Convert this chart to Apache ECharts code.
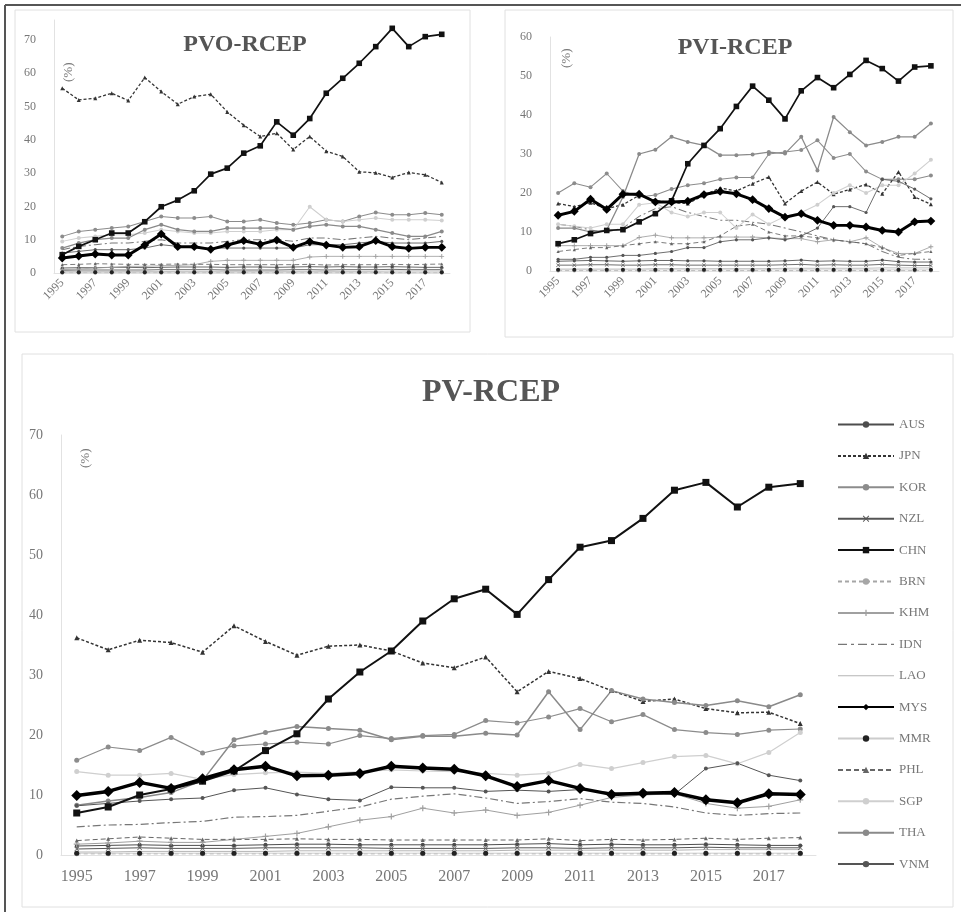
<!DOCTYPE html>
<html>
<head>
<meta charset="utf-8">
<script src="https://cdn.jsdelivr.net/npm/echarts@6/dist/echarts.min.js"></script>
<style>
  html, body { margin: 0; padding: 0; background: #fff; }
  #main { width: 961px; height: 912px; }
</style>
</head>
<body>
<div id="main"></div>
<script>
var years = ['1995', '1996', '1997', '1998', '1999', '2000', '2001', '2002', '2003', '2004', '2005', '2006',
    '2007', '2008', '2009', '2010', '2011', '2012', '2013', '2014', '2015', '2016', '2017', '2018'];
var countries = ['AUS', 'JPN', 'KOR', 'NZL', 'CHN', 'BRN', 'KHM', 'IDN', 'LAO', 'MYS', 'MMR', 'PHL', 'SGP', 'THA', 'VNM'];

// PVO-RCEP, one row per country (same order as countries)
var pvoValues = [
    [1.5, 1.6, 1.6, 1.7, 1.7, 1.6, 1.7, 1.8, 1.8, 1.8, 1.7, 1.8, 1.8, 1.7, 1.8, 1.9, 1.8, 1.9, 1.8, 1.8, 1.9, 1.8, 1.7, 1.7], // AUS
    [55.5, 52.0, 52.5, 54.0, 51.8, 58.7, 54.5, 50.7, 53.0, 53.7, 48.4, 44.4, 41.0, 42.0, 37.1, 41.0, 36.6, 35.0, 30.4, 30.1, 28.7, 30.2, 29.5, 27.2], // JPN
    [11.0, 12.5, 13.0, 13.5, 14.0, 15.5, 17.0, 16.5, 16.5, 17.0, 15.5, 15.5, 16.0, 15.0, 14.5, 15.0, 16.0, 15.5, 17.0, 18.2, 17.5, 17.5, 18.0, 17.5], // KOR
    [0.8, 0.9, 0.9, 0.9, 0.9, 0.9, 1.0, 1.0, 1.0, 1.0, 0.9, 0.9, 0.9, 0.9, 1.0, 1.0, 0.9, 1.0, 1.0, 1.0, 1.1, 1.0, 1.0, 1.0], // NZL
    [5.5, 8.0, 10.0, 12.0, 12.0, 15.4, 19.9, 21.9, 24.7, 29.7, 31.5, 36.0, 38.2, 45.4, 41.4, 46.4, 54.0, 58.5, 63.0, 68.0, 73.5, 68.0, 71.0, 71.7], // CHN
    [0.1, 0.1, 0.1, 0.1, 0.1, 0.1, 0.1, 0.1, 0.1, 0.1, 0.1, 0.1, 0.1, 0.1, 0.1, 0.1, 0.1, 0.1, 0.1, 0.1, 0.1, 0.1, 0.1, 0.1], // BRN
    [1.0, 1.2, 1.5, 1.7, 2.0, 2.0, 2.2, 2.3, 2.5, 3.5, 3.8, 3.8, 3.8, 3.8, 3.8, 4.8, 5.0, 5.0, 5.0, 5.0, 5.0, 5.0, 5.0, 5.0], // KHM
    [7.0, 8.0, 8.5, 9.0, 9.0, 9.5, 10.0, 9.0, 9.0, 9.0, 9.5, 10.0, 10.0, 10.0, 9.5, 10.5, 10.5, 10.0, 10.5, 11.0, 10.5, 10.0, 10.5, 11.0], // IDN
    [0.4, 0.4, 0.4, 0.4, 0.4, 0.4, 0.4, 0.5, 0.5, 0.5, 0.5, 0.5, 0.5, 0.5, 0.5, 0.5, 0.5, 0.5, 0.5, 0.5, 0.6, 0.6, 0.6, 0.6], // LAO
    [4.5, 5.1, 5.7, 5.4, 5.4, 8.4, 11.7, 7.9, 7.9, 7.1, 8.4, 9.7, 8.6, 9.9, 7.7, 9.4, 8.4, 7.7, 7.9, 9.7, 7.9, 7.4, 7.7, 7.7], // MYS
    [0.2, 0.2, 0.2, 0.2, 0.2, 0.2, 0.2, 0.2, 0.2, 0.2, 0.2, 0.2, 0.2, 0.2, 0.2, 0.2, 0.2, 0.2, 0.2, 0.2, 0.2, 0.2, 0.2, 0.2], // MMR
    [2.5, 2.6, 2.8, 2.7, 2.6, 2.6, 2.6, 2.7, 2.6, 2.6, 2.5, 2.5, 2.5, 2.5, 2.5, 2.6, 2.4, 2.5, 2.5, 2.5, 2.6, 2.5, 2.6, 2.7], // PHL
    [9.5, 10.5, 11.0, 11.5, 11.5, 12.0, 13.0, 12.5, 12.0, 12.0, 12.5, 12.5, 12.5, 13.0, 13.0, 19.9, 16.0, 15.5, 16.0, 16.5, 16.0, 16.0, 16.0, 15.8], // SGP
    [7.5, 9.0, 10.0, 10.5, 10.5, 13.0, 14.5, 13.0, 12.5, 12.5, 13.5, 13.5, 13.5, 13.5, 13.0, 14.0, 14.5, 14.0, 14.0, 13.0, 12.0, 11.0, 11.0, 12.5], // THA
    [6.0, 6.5, 7.0, 7.0, 7.0, 7.5, 8.5, 8.0, 7.5, 7.5, 7.5, 7.5, 7.5, 7.5, 7.5, 8.5, 8.5, 8.5, 9.0, 9.5, 9.0, 9.0, 9.0, 9.5]  // VNM
];

// PVI-RCEP
var pviValues = [
    [2.5, 2.6, 2.7, 2.6, 2.5, 2.6, 2.7, 2.7, 2.6, 2.6, 2.5, 2.5, 2.5, 2.5, 2.6, 2.8, 2.5, 2.6, 2.5, 2.5, 2.8, 2.4, 2.3, 2.3], // AUS
    [17.3, 16.5, 17.5, 16.0, 17.0, 19.4, 18.1, 17.5, 17.3, 19.4, 21.3, 20.5, 22.4, 24.1, 17.3, 20.5, 22.8, 19.7, 20.9, 22.2, 19.8, 25.4, 19.0, 17.1], // JPN
    [20.0, 22.5, 21.5, 25.0, 20.5, 19.0, 19.5, 21.0, 22.0, 22.5, 23.5, 24.0, 24.0, 30.0, 30.5, 31.0, 33.5, 29.0, 30.0, 25.5, 23.5, 23.5, 23.5, 24.5], // KOR
    [1.5, 1.5, 1.6, 1.6, 1.5, 1.5, 1.6, 1.6, 1.5, 1.5, 1.5, 1.5, 1.5, 1.5, 1.6, 1.7, 1.5, 1.6, 1.5, 1.5, 1.7, 1.5, 1.4, 1.4], // NZL
    [7.0, 8.0, 9.6, 10.4, 10.6, 12.6, 14.7, 18.0, 27.5, 32.2, 36.5, 42.2, 47.4, 43.8, 39.0, 46.2, 49.6, 47.0, 50.4, 54.0, 51.9, 48.7, 52.3, 52.6], // CHN
    [0.1, 0.1, 0.1, 0.1, 0.1, 0.1, 0.1, 0.1, 0.1, 0.1, 0.1, 0.1, 0.1, 0.1, 0.1, 0.1, 0.1, 0.1, 0.1, 0.1, 0.1, 0.1, 0.1, 0.1], // BRN
    [6.5, 6.5, 6.5, 6.5, 6.5, 8.6, 9.2, 8.5, 8.5, 8.5, 8.7, 8.7, 8.7, 8.5, 8.3, 8.3, 7.5, 8.0, 7.5, 8.5, 6.0, 4.5, 4.5, 6.2], // KHM
    [12.0, 11.5, 10.5, 10.0, 11.0, 14.0, 16.0, 16.5, 15.0, 14.0, 13.0, 13.0, 12.5, 12.0, 11.0, 10.0, 9.0, 8.0, 7.5, 7.0, 5.0, 3.5, 3.0, 3.0], // IDN
    [0.5, 0.5, 0.5, 0.5, 0.5, 0.5, 0.6, 0.6, 0.6, 0.6, 0.6, 0.6, 0.6, 0.6, 0.7, 0.7, 0.7, 0.7, 0.7, 0.7, 0.8, 0.8, 0.8, 0.8], // LAO
    [14.3, 15.3, 18.4, 15.8, 19.7, 19.7, 17.7, 17.7, 17.9, 19.6, 20.4, 19.8, 18.3, 16.0, 13.8, 14.7, 13.0, 11.7, 11.7, 11.3, 10.4, 10.0, 12.6, 12.8], // MYS
    [0.3, 0.3, 0.3, 0.3, 0.3, 0.3, 0.3, 0.3, 0.3, 0.3, 0.3, 0.3, 0.3, 0.3, 0.3, 0.3, 0.3, 0.3, 0.3, 0.3, 0.3, 0.3, 0.3, 0.3], // MMR
    [5.0, 5.5, 6.0, 6.0, 6.5, 7.0, 7.5, 7.0, 7.0, 7.5, 9.0, 11.5, 12.0, 10.0, 9.0, 9.0, 8.5, 8.0, 7.5, 7.0, 6.0, 4.0, 4.5, 5.0], // PHL
    [12.0, 11.5, 11.0, 12.0, 12.0, 17.0, 17.5, 15.0, 14.0, 15.0, 15.0, 11.0, 14.5, 12.0, 14.0, 15.0, 17.0, 20.0, 22.0, 20.0, 22.0, 22.0, 25.0, 28.5], // SGP
    [11.0, 11.0, 10.0, 10.5, 19.0, 30.0, 31.1, 34.4, 33.1, 32.2, 29.7, 29.7, 29.9, 30.5, 30.1, 34.4, 25.8, 39.5, 35.6, 32.2, 33.1, 34.4, 34.4, 37.8], // THA
    [3.0, 3.0, 3.5, 3.5, 4.0, 4.0, 4.5, 5.0, 6.0, 6.0, 7.5, 8.0, 8.0, 8.5, 8.0, 9.0, 11.0, 16.5, 16.5, 15.0, 23.5, 23.0, 21.0, 18.5]  // VNM
];

// PV-RCEP
var pvValues = [
    [1.5, 1.6, 1.7, 1.6, 1.6, 1.6, 1.7, 1.8, 1.8, 1.7, 1.7, 1.7, 1.7, 1.7, 1.8, 1.9, 1.7, 1.8, 1.7, 1.7, 1.8, 1.7, 1.6, 1.6], // AUS
    [36.2, 34.2, 35.8, 35.4, 33.8, 38.2, 35.6, 33.3, 34.8, 35.0, 34.0, 32.0, 31.2, 33.0, 27.2, 30.6, 29.4, 27.4, 25.6, 26.0, 24.4, 23.7, 23.8, 21.9], // JPN
    [15.8, 18.0, 17.4, 19.6, 17.0, 18.2, 18.5, 18.8, 18.5, 19.9, 19.4, 19.9, 20.1, 22.4, 22.0, 23.0, 24.4, 22.2, 23.4, 20.9, 20.4, 20.1, 20.8, 21.0], // KOR
    [1.0, 1.1, 1.2, 1.1, 1.1, 1.1, 1.2, 1.2, 1.2, 1.2, 1.1, 1.1, 1.1, 1.1, 1.2, 1.2, 1.1, 1.2, 1.2, 1.2, 1.3, 1.2, 1.2, 1.2], // NZL
    [7.0, 8.0, 10.0, 11.0, 12.3, 14.0, 17.4, 20.2, 26.0, 30.5, 34.0, 39.0, 42.7, 44.3, 40.1, 45.9, 51.3, 52.4, 56.1, 60.8, 62.1, 58.0, 61.3, 61.9], // CHN
    [0.2, 0.2, 0.2, 0.2, 0.2, 0.2, 0.2, 0.2, 0.2, 0.2, 0.2, 0.2, 0.2, 0.2, 0.2, 0.2, 0.2, 0.2, 0.2, 0.2, 0.2, 0.2, 0.2, 0.2], // BRN
    [1.8, 2.0, 2.3, 2.1, 2.1, 2.6, 3.1, 3.6, 4.7, 5.8, 6.4, 7.8, 7.0, 7.5, 6.6, 7.1, 8.3, 9.6, 10.0, 10.2, 8.6, 7.8, 8.1, 9.2], // KHM
    [4.7, 5.0, 5.1, 5.4, 5.6, 6.3, 6.4, 6.6, 7.3, 8.0, 9.3, 9.8, 10.2, 9.5, 8.6, 8.9, 9.4, 8.8, 8.6, 8.0, 7.0, 6.6, 6.9, 7.0], // IDN
    [0.5, 0.5, 0.6, 0.6, 0.6, 0.6, 0.6, 0.7, 0.7, 0.7, 0.7, 0.7, 0.7, 0.7, 0.8, 0.8, 0.8, 0.8, 0.8, 0.8, 0.9, 0.9, 0.9, 0.9], // LAO
    [9.9, 10.6, 12.1, 11.1, 12.7, 14.2, 14.8, 13.2, 13.3, 13.6, 14.8, 14.5, 14.3, 13.2, 11.4, 12.4, 11.1, 10.1, 10.3, 10.4, 9.2, 8.7, 10.2, 10.1], // MYS
    [0.3, 0.3, 0.3, 0.3, 0.3, 0.3, 0.3, 0.3, 0.3, 0.3, 0.3, 0.3, 0.3, 0.3, 0.3, 0.3, 0.3, 0.3, 0.3, 0.3, 0.3, 0.3, 0.3, 0.3], // MMR
    [2.4, 2.7, 3.0, 2.8, 2.6, 2.6, 2.6, 2.7, 2.6, 2.6, 2.5, 2.5, 2.5, 2.5, 2.5, 2.7, 2.4, 2.6, 2.5, 2.6, 2.8, 2.6, 2.8, 2.9], // PHL
    [13.9, 13.3, 13.3, 13.6, 12.6, 13.4, 13.7, 13.8, 13.6, 13.9, 14.2, 14.0, 13.9, 13.6, 13.3, 13.6, 15.1, 14.4, 15.4, 16.4, 16.6, 15.2, 17.1, 20.4], // SGP
    [8.3, 9.0, 9.6, 10.4, 12.4, 19.2, 20.4, 21.4, 21.1, 20.8, 19.2, 19.8, 19.8, 20.3, 20.0, 27.2, 20.9, 27.4, 26.0, 25.4, 24.9, 25.7, 24.7, 26.7], // THA
    [8.2, 8.6, 9.0, 9.3, 9.5, 10.8, 11.2, 10.1, 9.3, 9.1, 11.3, 11.2, 11.2, 10.6, 10.8, 10.6, 10.9, 10.4, 10.3, 10.1, 14.4, 15.3, 13.3, 12.4]  // VNM
];

var crossPath = 'path://M0,1L1,0L5,4L9,0L10,1L6,5L10,9L9,10L5,6L1,10L0,9L4,5Z';
var plusPath = 'path://M4,0H6V4H10V6H6V10H4V6H0V4H4Z';
// legend icons for the two series without markers (thin line, tiny corner dots keep the box 56x8)
var laoIcon = 'path://M0,0h0.01v0.01h-0.01Z M0,3.5H56V4.5H0Z M55.99,8h0.01v-0.01h-0.01Z';
var idnIcon = 'path://M0,0h0.01v0.01h-0.01Z M0,3.4H9V4.6H0Z M13,3.4H16V4.6H13Z M20,3.4H29V4.6H20Z M33,3.4H36V4.6H33Z M40,3.4H49V4.6H40Z M53,3.4H56V4.6H53Z M55.99,8h0.01v-0.01h-0.01Z';

var styles = {
    AUS: { color: '#4d4d4d', width: 1, type: 'solid', symbol: 'circle', size: 4 },
    JPN: { color: '#333333', width: 1.5, type: [3, 2], symbol: 'triangle', size: 5 },
    KOR: { color: '#8c8c8c', width: 1.2, type: 'solid', symbol: 'circle', size: 5 },
    NZL: { color: '#555555', width: 1, type: 'solid', symbol: crossPath, size: 5 },
    CHN: { color: '#111111', width: 2, type: 'solid', symbol: 'rect', size: 7, z: 4 },
    BRN: { color: '#a6a6a6', width: 1, type: [4, 3], symbol: 'circle', size: 5 },
    KHM: { color: '#a0a0a0', width: 1, type: 'solid', symbol: plusPath, size: 6 },
    IDN: { color: '#777777', width: 1.2, type: [8, 3, 2, 3], symbol: 'none', size: 0 },
    LAO: { color: '#b5b5b5', width: 1, type: 'solid', symbol: 'none', size: 0 },
    MYS: { color: '#000000', width: 3.5, type: 'solid', symbol: 'diamond', size: 11, z: 5 },
    MMR: { color: '#cccccc', width: 1, type: 'solid', symbol: 'circle', size: 5, dot: '#222222' },
    PHL: { color: '#666666', width: 1, type: [5, 3], symbol: 'triangle', size: 4 },
    SGP: { color: '#cfcfcf', width: 1.2, type: 'solid', symbol: 'circle', size: 5 },
    THA: { color: '#8a8a8a', width: 1.5, type: 'solid', symbol: 'circle', size: 5 },
    VNM: { color: '#555555', width: 1, type: 'solid', symbol: 'circle', size: 4 }
};

var serif = '"Liberation Serif", "DejaVu Serif", serif';

function buildSeries(values, idx, scale) {
    return countries.map(function (name, i) {
        var st = styles[name];
        return {
            name: name,
            type: 'line',
            xAxisIndex: idx,
            yAxisIndex: idx,
            data: values[i],
            symbol: st.symbol,
            symbolSize: st.size * scale,
            showSymbol: st.symbol !== 'none',
            lineStyle: { color: st.color, width: st.width * (scale < 1 ? 0.85 : 1), type: st.type },
            itemStyle: { color: st.dot || st.color },
            z: st.z || 2,
            emphasis: { disabled: true }
        };
    });
}

function xAxisOf(idx, rotate, size) {
    return {
        type: 'category',
        gridIndex: idx,
        data: years,
        boundaryGap: true,
        axisTick: { show: false },
        axisLine: { lineStyle: { color: '#e2e2e2' } },
        axisLabel: {
            interval: 1,
            rotate: rotate,
            margin: rotate ? 8 : 14,
            color: '#777',
            fontFamily: serif,
            fontSize: size
        }
    };
}

function yAxisOf(idx, max, size) {
    return {
        type: 'value',
        gridIndex: idx,
        min: 0,
        max: max,
        interval: 10,
        splitLine: { show: false },
        axisTick: { show: false },
        axisLine: { show: true, lineStyle: { color: '#e2e2e2' } },
        axisLabel: {
            color: '#777', fontFamily: serif, fontSize: size, margin: 18,
            formatter: function (v) { return v % 10 === 0 ? v : ''; }
        }
    };
}

var legendData = countries.map(function (name) {
    if (name === 'LAO') return { name: name, icon: laoIcon };
    if (name === 'IDN') return { name: name, icon: idnIcon };
    return { name: name };
});

var chart = echarts.init(document.getElementById('main'));
chart.setOption({
    animation: false,
    backgroundColor: '#fff',
    title: [{
        text: 'PVO-RCEP', left: 240, top: 28, textAlign: 'center',
        textStyle: { fontFamily: serif, fontWeight: 'bold', fontSize: 24, color: '#555' }
    }, {
        text: 'PVI-RCEP', left: 730, top: 31, textAlign: 'center',
        textStyle: { fontFamily: serif, fontWeight: 'bold', fontSize: 24, color: '#555' }
    }, {
        text: 'PV-RCEP', left: 486, top: 372, textAlign: 'center',
        textStyle: { fontFamily: serif, fontWeight: 'bold', fontSize: 32, color: '#555' }
    }],
    legend: {
        orient: 'vertical',
        left: 832,
        top: 413,
        itemWidth: 56,
        itemHeight: 8,
        itemGap: 18.4,
        data: legendData,
        textStyle: { fontFamily: serif, fontSize: 13, color: '#777' }
    },
    grid: [
        { left: 54, right: 511, top: 20, bottom: 639 },
        { left: 550, right: 22, top: 37, bottom: 641 },
        { left: 61, right: 145, top: 435, bottom: 57 }
    ],
    xAxis: [xAxisOf(0, 45, 12), xAxisOf(1, 45, 12), xAxisOf(2, 0, 16)],
    yAxis: [yAxisOf(0, 76, 12), yAxisOf(1, 60, 12), yAxisOf(2, 70, 14)],
    graphic: [
        { type: 'rect', shape: { x: 15, y: 10, width: 455, height: 322 }, style: { fill: 'none', stroke: '#e0e0e0', lineWidth: 1 }, silent: true },
        { type: 'rect', shape: { x: 505, y: 10, width: 448, height: 327 }, style: { fill: 'none', stroke: '#e0e0e0', lineWidth: 1 }, silent: true },
        { type: 'rect', shape: { x: 22, y: 354, width: 931, height: 553 }, style: { fill: 'none', stroke: '#e0e0e0', lineWidth: 1 }, silent: true },
        { type: 'line', shape: { x1: 5, y1: 5, x2: 961, y2: 5 }, style: { stroke: '#555', lineWidth: 2 }, silent: true },
        { type: 'line', shape: { x1: 5, y1: 5, x2: 5, y2: 912 }, style: { stroke: '#555', lineWidth: 2 }, silent: true },
        { type: 'text', x: 62, y: 82, rotation: Math.PI / 2, style: { text: '(%)', font: '13px ' + serif, fill: '#777' }, silent: true },
        { type: 'text', x: 560, y: 68, rotation: Math.PI / 2, style: { text: '(%)', font: '13px ' + serif, fill: '#777' }, silent: true },
        { type: 'text', x: 79, y: 468, rotation: Math.PI / 2, style: { text: '(%)', font: '13px ' + serif, fill: '#777' }, silent: true }
    ],
    series: [].concat(
        buildSeries(pvoValues, 0, 0.8),
        buildSeries(pviValues, 1, 0.8),
        buildSeries(pvValues, 2, 1)
    )
});
</script>
</body>
</html>
